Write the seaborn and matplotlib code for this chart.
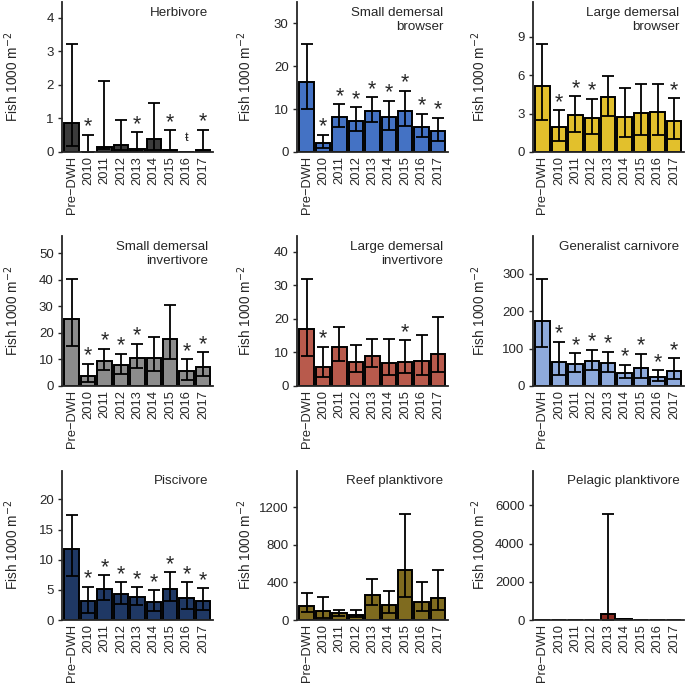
import matplotlib
matplotlib.use("Agg")
import matplotlib.pyplot as plt
import seaborn as sns
import pandas as pd
import numpy as np

years = ["Pre\u2212DWH", "2010", "2011", "2012", "2013", "2014", "2015", "2016", "2017"]

# mean density and lower / upper interval bounds
herb_mean = [0.86, 0.0, 0.14, 0.21, 0.08, 0.38, 0.05, 0.0, 0.05]
herb_lo = [0.18, 0.0, 0.1, 0.07, 0.03, 0.07, 0.02, 0.0, 0.02]
herb_hi = [3.22, 0.52, 2.12, 0.96, 0.59, 1.46, 0.64, 0.0, 0.66]
herb_sig = ["", "*", "", "", "*", "", "*", "\u0167", "*"]

sdb_mean = [16.4, 2.1, 8.2, 7.3, 9.6, 8.2, 9.5, 5.8, 4.8]
sdb_lo = [10.0, 0.9, 5.8, 4.8, 6.9, 5.1, 6.1, 3.6, 2.5]
sdb_hi = [25.2, 4.05, 11.1, 10.4, 12.8, 11.9, 14.3, 8.9, 7.95]
sdb_sig = ["", "*", "*", "*", "*", "*", "*", "*", "*"]

ldb_mean = [5.14, 1.96, 2.9, 2.69, 4.33, 2.74, 3.05, 3.1, 2.43]
ldb_lo = [2.5, 0.83, 1.6, 1.38, 2.85, 1.17, 1.36, 1.3, 1.04]
ldb_hi = [8.43, 3.26, 4.38, 4.17, 5.95, 5.04, 5.3, 5.3, 4.2]
ldb_sig = ["", "*", "*", "*", "", "", "", "", "*"]

sdi_mean = [25.2, 3.9, 9.6, 7.8, 10.7, 10.7, 17.9, 5.8, 7.2]
sdi_lo = [15.2, 1.6, 6.0, 4.7, 6.8, 5.8, 10.2, 2.4, 3.9]
sdi_hi = [40.5, 8.4, 14.0, 12.1, 15.9, 18.5, 30.6, 10.2, 12.7]
sdi_sig = ["", "*", "*", "*", "*", "", "", "*", "*"]

ldi_mean = [17.1, 5.75, 11.5, 7.0, 9.0, 6.7, 7.0, 7.3, 9.6]
ldi_lo = [8.9, 2.7, 7.3, 4.1, 5.75, 3.3, 3.8, 3.4, 4.3]
ldi_hi = [31.9, 11.7, 17.6, 12.3, 14.1, 14.1, 13.6, 15.1, 20.6]
ldi_sig = ["", "*", "", "", "", "", "*", "", ""]

gc_mean = [174, 63, 60, 66, 62.5, 36, 47, 23, 41]
gc_lo = [104, 29.5, 37.5, 42, 38, 21, 21, 12, 20]
gc_hi = [287, 118, 88, 97, 92, 57, 86, 42, 74]
gc_sig = ["", "*", "*", "*", "*", "*", "*", "*", "*"]

pisc_mean = [11.7, 3.1, 5.2, 4.3, 3.85, 3.0, 5.2, 3.7, 3.1]
pisc_lo = [7.25, 1.2, 3.25, 2.7, 2.5, 1.5, 3.2, 1.8, 1.65]
pisc_hi = [17.5, 5.55, 7.4, 6.3, 5.4, 4.95, 7.9, 6.3, 5.3]
pisc_sig = ["", "*", "*", "*", "*", "*", "*", "*", "*"]

reef_mean = [153, 96, 71, 57, 270, 160, 529, 192, 238]
reef_lo = [82, 25, 39, 28, 156, 75, 248, 96, 110]
reef_hi = [291, 248, 106, 103, 440, 309, 1125, 408, 532]
reef_sig = [""] * 9

pel_mean = [0, 0, 0, 0, 300, 60, 0, 0, 0]
pel_lo = [0, 0, 0, 0, 0, 40, 0, 0, 0]
pel_hi = [0, 0, 0, 0, 5530, 70, 0, 0, 0]
pel_sig = [""] * 9

titles = ["Herbivore", "Small demersal\nbrowser", "Large demersal\nbrowser",
          "Small demersal\ninvertivore", "Large demersal\ninvertivore", "Generalist carnivore",
          "Piscivore", "Reef planktivore", "Pelagic planktivore"]
colors = ["#3b3b3b", "#4472c4", "#e2c02c", "#8c8c8c", "#b85a4c", "#8eaadc",
          "#1f3864", "#7f6b1f", "#8b2b22"]
ytops = [4.45, 34.8, 11.7, 56.4, 44.5, 400, 24.8, 1592, 7826]
yticks = [[0, 1, 2, 3, 4], [0, 10, 20, 30], [0, 3, 6, 9], [0, 10, 20, 30, 40, 50],
          [0, 10, 20, 30, 40], [0, 100, 200, 300], [0, 5, 10, 15, 20],
          [0, 400, 800, 1200], [0, 2000, 4000, 6000]]

groups = [
    (herb_mean, herb_lo, herb_hi, herb_sig),
    (sdb_mean, sdb_lo, sdb_hi, sdb_sig),
    (ldb_mean, ldb_lo, ldb_hi, ldb_sig),
    (sdi_mean, sdi_lo, sdi_hi, sdi_sig),
    (ldi_mean, ldi_lo, ldi_hi, ldi_sig),
    (gc_mean, gc_lo, gc_hi, gc_sig),
    (pisc_mean, pisc_lo, pisc_hi, pisc_sig),
    (reef_mean, reef_lo, reef_hi, reef_sig),
    (pel_mean, pel_lo, pel_hi, pel_sig),
]

sns.set_style("ticks")
plt.rcParams['font.family'] = ['Liberation Sans', 'DejaVu Sans']
plt.rcParams['font.size'] = 9

fig = plt.figure(figsize=(6.85, 6.89), dpi=100)

lefts = [0.0905, 0.4336, 0.778]
bottoms = [0.7794, 0.4398, 0.1001]
w, h = 0.2204, 0.2170

for i, (mean, lo, hi, sig) in enumerate(groups):
    r, c = divmod(i, 3)
    ax = fig.add_axes([lefts[c], bottoms[r], w, h])
    df = pd.DataFrame({"year": years, "fish": mean})
    sns.barplot(data=df, x="year", y="fish", color=colors[i], saturation=1,
                edgecolor="black", linewidth=1.4, width=0.88, errorbar=None, ax=ax)
    x = np.arange(len(years))
    m = np.array(mean, dtype=float)
    has = np.array(hi) > 0
    yerr = np.vstack([m - np.array(lo), np.array(hi) - m])
    ax.errorbar(x[has], m[has], yerr=yerr[:, has], fmt="none", ecolor="black",
                elinewidth=1.3, capsize=4, capthick=1.3)
    for xi, s, top in zip(x, sig, hi):
        if s == "*":
            ax.annotate(s, (xi, top), xytext=(0, -2), textcoords="offset points",
                        ha="center", va="bottom", fontsize=15.5)
        elif s:
            ax.text(xi, 0.43, s, ha="center", va="center", fontsize=9)
    ax.set_xlim(-0.58, 8.6)
    ax.set_ylim(0, ytops[i])
    ax.set_yticks(yticks[i])
    ax.set_yticklabels([str(t) for t in yticks[i]], fontsize=9.5)
    ax.set_xticks(x)
    ax.set_xticklabels(years, rotation=90, fontsize=9.3)
    ax.tick_params(axis="x", length=0, pad=3)
    ax.tick_params(axis="y", length=3, width=1, pad=3)
    ax.set_xlabel("")
    ax.set_ylabel("Fish 1000 m$^{-2}$", fontsize=9.8)
    ax.yaxis.set_label_coords(-0.27 - 0.015 * c, 0.5)
    for sp in ["left", "bottom"]:
        ax.spines[sp].set_linewidth(1.3)
    sns.despine(ax=ax)
    ax.text(0.97, 0.97, titles[i], transform=ax.transAxes, ha="right", va="top",
            fontsize=9.6, linespacing=1.2)

fig.savefig("out.png", dpi=100)
